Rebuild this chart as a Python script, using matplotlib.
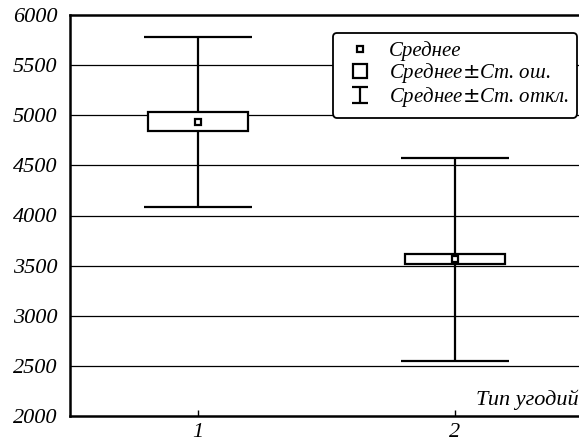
import numpy as np
import matplotlib
matplotlib.use("Agg")
import matplotlib.pyplot as plt
from matplotlib.lines import Line2D
from matplotlib.path import Path

plt.rcParams['font.family'] = ['Liberation Serif', 'DejaVu Serif']
plt.rcParams['font.style'] = 'italic'
plt.rcParams['mathtext.fontset'] = 'custom'

# data
groups = [1, 2]
group_labels = ["1", "2"]
means = [4935, 3565]
std_err = [95, 50]
std_dev = [850, 1012]
yticks = [2000, 2500, 3000, 3500, 4000, 4500, 5000, 5500, 6000]

fig = plt.figure(figsize=(5.79, 4.43), dpi=100)
ax = fig.add_axes([70/579, 27/443, 513/579, 401/443])

x = np.array(groups)
m = np.array(means)
se = np.array(std_err)
sd = np.array(std_dev)

# grid
for yv in yticks[1:-1]:
    ax.axhline(yv, color='black', lw=0.9, zorder=0)

# whiskers (+- st. dev.)
w = 0.42
ax.vlines(x, m - sd, m + sd, color='black', lw=1.6, zorder=2)
ax.hlines(m + sd, x - w/2, x + w/2, color='black', lw=1.6, zorder=2)
ax.hlines(m - sd, x - w/2, x + w/2, color='black', lw=1.6, zorder=2)

# box (+- st. err.)
ax.bar(x, 2*se, bottom=m - se, width=0.39, facecolor='white', edgecolor='black', lw=1.6, zorder=3)

# mean
ax.plot(x, m, ls='none', marker='s', ms=5, mfc='white', mec='black', mew=1.6, zorder=4)

ax.set_xlim(0.5, 2.5)
ax.set_ylim(2000, 6000)
ax.set_yticks(yticks)
ax.set_yticklabels([str(v) for v in yticks], fontsize=16)
ax.set_xticks(groups)
ax.set_xticklabels(group_labels, fontsize=16)
ax.tick_params(axis='y', length=0, pad=9)
ax.tick_params(axis='x', direction='in', length=4, width=1, pad=5)
for s in ['left', 'bottom', 'top']:
    ax.spines[s].set_linewidth(1.8)
ax.spines['right'].set_visible(False)

fig.text(0.999, (443-405)/443, "Тип угодий", ha='right', va='baseline', fontsize=16)

# legend
whisk = Path([(-0.5, 0.5), (0.5, 0.5), (0, 0.5), (0, -0.5), (-0.5, -0.5), (0.5, -0.5)],
             [Path.MOVETO, Path.LINETO, Path.MOVETO, Path.LINETO, Path.MOVETO, Path.LINETO])
handles = [
    Line2D([], [], ls='none', marker='s', ms=5, mfc='white', mec='black', mew=1.6),
    Line2D([], [], ls='none', marker='s', ms=10, mfc='white', mec='black', mew=1.6),
    Line2D([], [], ls='none', marker=whisk, ms=11, mfc='none', mec='black', mew=1.6),
]
labels = ["Среднее", "Среднее$\\pm$Ст. ош.", "Среднее$\\pm$Ст. откл."]
leg = fig.legend(handles, labels, loc='upper right', bbox_to_anchor=(577/579, 1 - 33/443),
                 fontsize=15, frameon=True, fancybox=True, framealpha=1,
                 edgecolor='black', handlelength=1.8, handletextpad=0.5,
                 labelspacing=0.0, borderpad=0.4, borderaxespad=0)
leg.get_frame().set_linewidth(1.3)

fig.savefig("out.png", dpi=100)
